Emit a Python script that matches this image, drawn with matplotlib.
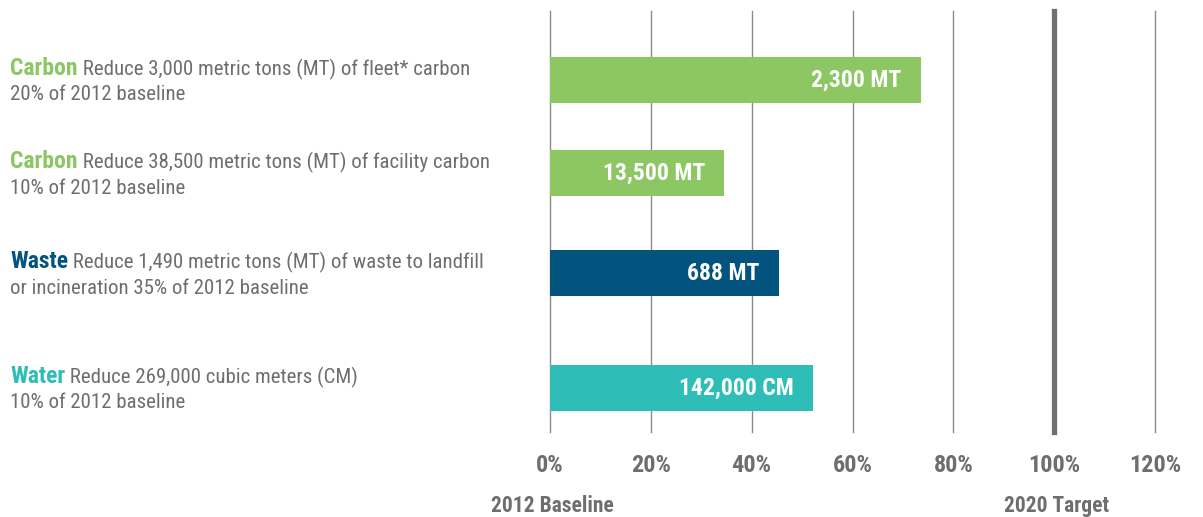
import matplotlib
matplotlib.use("Agg")
import matplotlib.pyplot as plt
from matplotlib import font_manager

# ---- data ----
categories = ["Carbon", "Carbon", "Waste", "Water"]
descriptions_line1 = [
    "Reduce 3,000 metric tons (MT) of fleet* carbon",
    "Reduce 38,500 metric tons (MT) of facility carbon",
    "Reduce 1,490 metric tons (MT) of waste to landfill",
    "Reduce 269,000 cubic meters (CM)",
]
descriptions_line2 = [
    "20% of 2012 baseline",
    "10% of 2012 baseline",
    "or incineration 35% of 2012 baseline",
    "10% of 2012 baseline",
]
progress_pct = [73.5, 34.6, 45.4, 52.2]
bar_labels = ["2,300 MT", "13,500 MT", "688 MT", "142,000 CM"]
tick_values = [0, 20, 40, 60, 80, 100, 120]
tick_labels = ["0%", "20%", "40%", "60%", "80%", "100%", "120%"]

# ---- layout / style ----
row_pos = [0.0, 0.93, 1.93, 3.08]
bar_colors = ["#8CC764", "#8CC764", "#02547E", "#2FBDB7"]
grey = "#6E6E6E"

avail = {f.name for f in font_manager.fontManager.ttflist}
fam = "DejaVu Sans"
for cand in ["Roboto Condensed", "Liberation Sans Narrow", "Arial Narrow", "Roboto"]:
    if cand in avail:
        fam = cand
        break
plt.rcParams["font.family"] = [fam, "DejaVu Sans"]

W, H = 1203, 517
fig = plt.figure(figsize=(W / 100, H / 100), dpi=100)
ax = fig.add_axes([550 / W, 1 - 432 / H, 605 / W, (432 - 11) / H])
ax.set_xlim(0, 120)
ax.set_ylim(3.52, -0.69)

for v in tick_values:
    ax.axvline(v, color="#707070" if v == 100 else "#8A8A8A",
               lw=3.8 if v == 100 else 1.0, zorder=1, clip_on=False)

ax.barh(row_pos, progress_pct, height=0.46, color=bar_colors, zorder=2)

for y, val, lab in zip(row_pos, progress_pct, bar_labels):
    ax.annotate(lab, xy=(val, y), xytext=(-14, 0), textcoords="offset points",
                ha="right", va="center", color="white", fontsize=17,
                fontweight="bold", zorder=3)

for y, cat, d1, d2, col in zip(row_pos, categories, descriptions_line1,
                               descriptions_line2, bar_colors):
    t1 = ax.annotate(cat, xy=(10 / W, y), xycoords=("figure fraction", "data"),
                     xytext=(0, 8.6), textcoords="offset points",
                     ha="left", va="center", fontsize=17, fontweight="bold",
                     color=col, annotation_clip=False)
    ax.annotate(" " + d1, xy=(1, 0), xycoords=t1, ha="left", va="bottom",
                fontsize=15, color=grey, annotation_clip=False)
    ax.annotate(d2, xy=(10 / W, y), xycoords=("figure fraction", "data"),
                xytext=(0, -10.8), textcoords="offset points",
                ha="left", va="center", fontsize=15, color=grey,
                annotation_clip=False)

ax.set_xticks(tick_values)
ax.set_xticklabels(tick_labels, fontsize=17.5, fontweight="bold", color=grey)
ax.tick_params(axis="x", length=0, pad=16)
ax.set_yticks([])
for s in ax.spines.values():
    s.set_visible(False)

for xv, txt in [(0, "2012 Baseline"), (100, "2020 Target")]:
    ax.annotate(txt, xy=(xv, 0), xycoords=("data", "axes fraction"),
                xytext=(1.5, -53), textcoords="offset points",
                ha="center", va="center", fontsize=15.5, fontweight="bold",
                color=grey, annotation_clip=False)

fig.savefig("out.png", dpi=100)
